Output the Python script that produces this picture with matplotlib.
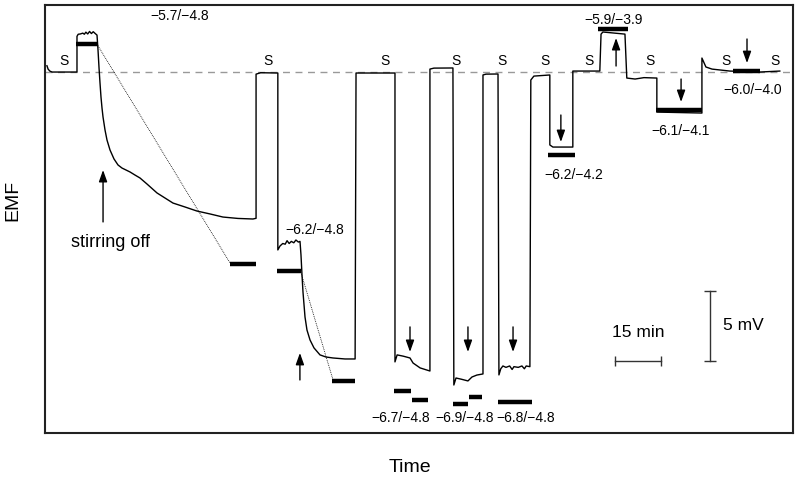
import matplotlib
matplotlib.use("Agg")
import matplotlib.pyplot as plt

plt.rcParams['font.family'] = ['Liberation Sans', 'DejaVu Sans']

# EMF trace: time (min) and EMF (mV relative to baseline)
trace_t = [0.3, 0.7, 1.3, 2.0, 10.1,
           10.1, 10.5, 11.2, 12.0, 12.5, 13.0, 13.6, 14.2, 14.8, 15.4, 16.0, 16.63,
           16.96, 17.29, 17.61, 17.93, 18.26, 18.59, 19.24, 19.89, 20.87, 22.17, 23.48,
           24.78, 26.09, 27.39, 29.02, 30.65, 32.93, 36.2, 38.8, 41.4, 45.3, 49.2, 53.5,
           57.7, 62.6, 67.5, 68.5,
           68.5, 70.0, 75.6,
           75.6, 76.3, 77.2, 78.0, 78.6, 79.3, 80.0, 80.8, 81.5, 82.3, 82.83,
           83.15, 83.48, 83.8, 84.46, 85.1, 86.09, 87.39, 89.35, 91.3, 93.6, 97.5, 100.8,
           101.1, 113.8,
           113.8, 114.5, 116.5, 118.7, 119.7, 122.0, 125.2,
           125.2, 126.5, 132.7,
           133.0, 133.7, 135.5, 137.6, 138.9, 140.5, 142.5,
           142.5, 143.5, 147.4,
           147.7, 148.3, 149.0, 150.0, 151.2, 152.0, 152.6, 154.0, 155.2, 156.0, 156.6, 157.8,
           158.1, 159.1, 164.3,
           164.3, 165.3, 171.8,
           171.8, 180.6,
           181.0, 181.6, 188.8,
           189.4, 192.1, 195.0, 199.2,
           199.2, 213.9,
           213.9, 215.2, 217.2, 223.0, 232.8, 239.3]
trace_v = [0.45, 0.2, 0.06, 0.0, 0.0,
           2.55, 2.7, 2.72, 2.78, 2.7, 2.85, 2.72, 2.9, 2.75, 2.88, 2.76, 2.64,
           1.57, 0.29, -0.79, -1.79, -2.57, -3.21, -4.14, -4.86, -5.57, -6.21, -6.64,
           -6.86, -7.0, -7.14, -7.36, -7.57, -8.0, -8.64, -9.0, -9.36, -9.64, -9.93, -10.14,
           -10.36, -10.46, -10.5, -10.45,
           -0.15, -0.05, -0.07,
           -12.71, -12.43, -12.25, -12.3, -12.05, -12.25, -12.1, -12.2, -12.0, -12.15, -12.1,
           -13.07, -14.5, -15.71, -17.5, -18.43, -19.14, -19.71, -20.21, -20.36, -20.43, -20.5, -20.5,
           -0.07, -0.07,
           -20.71, -20.21, -20.3, -20.43, -20.79, -21.14, -21.36,
           0.21, 0.28, 0.29,
           -22.36, -21.86, -21.95, -22.07, -21.79, -21.65, -21.57,
           -0.21, -0.15, -0.14,
           -21.64, -21.2, -21.0, -21.1, -21.0, -21.25, -21.05, -21.1, -21.0, -21.2, -21.0, -21.05,
           -0.57, -0.29, -0.21,
           -5.21, -5.36, -5.36,
           0.07, 0.07,
           2.71, 2.86, 2.71,
           -0.43, -0.5, -0.4, -0.43,
           -2.86, -2.93,
           1.0, 0.36, 0.21, 0.07, 0.0, 0.07]

# Thick bars: expected levels (start, end, level)
bar_start = [9.8, 60.0, 75.3, 93.3, 113.5, 119.3, 132.7, 137.9, 147.4, 163.7, 180.0, 198.9, 224.0]
bar_end = [16.6, 68.5, 83.1, 100.8, 119.0, 124.6, 137.6, 142.2, 158.5, 172.5, 189.8, 213.9, 232.8]
bar_level = [2.0, -13.71, -14.21, -22.07, -22.79, -23.43, -23.71, -23.21, -23.57, -5.93, 3.07, -2.71, 0.07]

# Dotted extrapolation lines
dot1_t = [16.6, 60.0]
dot1_v = [2.0, -13.64]
dot2_t = [83.1, 93.6]
dot2_v = [-14.29, -22.0]

# Arrows: time, tail level, head level
arrow_t = [18.6, 82.8, 118.7, 137.6, 152.3, 167.9, 185.9, 207.1, 228.6]
arrow_tail = [-10.71, -22.0, -18.21, -18.21, -18.21, -3.07, 0.43, -0.5, 2.36]
arrow_head = [-7.0, -20.07, -20.0, -20.0, -20.0, -5.0, 2.43, -2.14, 0.64]

# "S" markers
s_t = [5.87, 72.4, 110.5, 133.7, 148.7, 162.7, 177.1, 197.0, 221.7, 237.7]
s_v = 0.8

# pH labels
lab_text = ['\u22125.7/\u22124.8', '\u22126.2/\u22124.8', '\u22126.7/\u22124.8', '\u22126.9/\u22124.8',
            '\u22126.8/\u22124.8', '\u22126.2/\u22124.2', '\u22125.9/\u22123.9', '\u22126.1/\u22124.1',
            '\u22126.0/\u22124.0']
lab_t = [43.7, 87.7, 115.8, 136.5, 156.4, 172.2, 185.1, 206.9, 230.5]
lab_v = [4.0, -11.29, -24.71, -24.71, -24.71, -7.36, 3.75, -4.18, -1.29]

fig = plt.figure(figsize=(8, 4.8), dpi=100)
ax = fig.add_axes([0.05625, 0.0979, 0.935, 0.8917])

ax.axhline(0, color='#999999', lw=1.0, ls=(0, (5, 4)), zorder=1)
ax.plot(trace_t, trace_v, color='black', lw=1.0, zorder=3)
for s, e, lv in zip(bar_start, bar_end, bar_level):
    ax.plot([s, e], [lv, lv], color='black', lw=3.2, solid_capstyle='butt', zorder=4)
ax.plot(dot1_t, dot1_v, color='black', lw=0.6, ls=(0, (1, 1.2)), zorder=2)
ax.plot(dot2_t, dot2_v, color='black', lw=0.6, ls=(0, (1, 1.2)), zorder=2)

for t, a, b in zip(arrow_t, arrow_tail, arrow_head):
    ax.annotate('', xy=(t, b), xytext=(t, a),
                arrowprops=dict(arrowstyle='-|>,head_length=0.7,head_width=0.25',
                                color='black', lw=1.0, shrinkA=0, shrinkB=0))

for t in s_t:
    ax.text(t, s_v, 'S', ha='center', va='center', fontsize=10)

for txt, t, v in zip(lab_text, lab_t, lab_v):
    ax.text(t, v, txt, ha='center', va='center', fontsize=10)

ax.text(20.9, -12.2, 'stirring off', ha='center', va='center', fontsize=13)

# scale bars
ax.plot([185.5, 200.5], [-20.64, -20.64], color='#333333', lw=1.0,
        marker='|', markersize=7, markeredgewidth=1.0)
ax.text(193.0, -18.64, '15 min', ha='center', va='center', fontsize=12.5)
ax.plot([216.5, 216.5], [-15.64, -20.64], color='#333333', lw=1.0,
        marker='_', markersize=8, markeredgewidth=1.0)
ax.text(220.8, -18.14, '5 mV', ha='left', va='center', fontsize=12.5)

ax.set_xlim(-0.33, 243.6)
ax.set_ylim(-25.79, 4.79)
ax.set_xticks([])
ax.set_yticks([])
for sp in ax.spines.values():
    sp.set_linewidth(1.5)
    sp.set_color('#222222')

fig.text(13 / 800, 1 - 200 / 480, 'EMF', rotation=90, ha='center', va='center', fontsize=14)
fig.text(410 / 800, 1 - 468 / 480, 'Time', ha='center', va='center', fontsize=14)

fig.savefig('out.png', dpi=100)
